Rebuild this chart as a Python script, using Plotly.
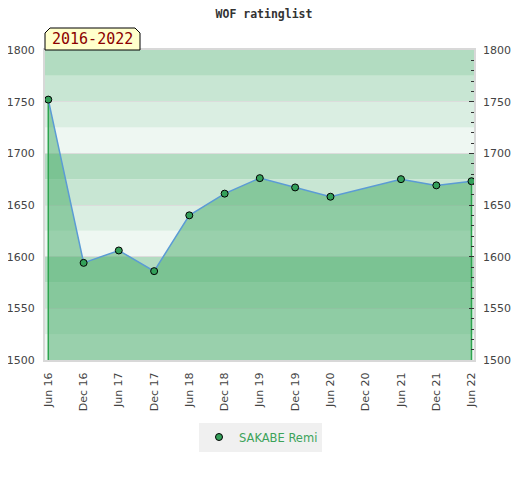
import plotly.graph_objects as go

# rating list dates and ratings (Dec 2020 list has no entry)
dates = ["2016-06-01", "2016-12-01", "2017-06-01", "2017-12-01", "2018-06-01",
         "2018-12-01", "2019-06-01", "2019-12-01", "2020-06-01", "2021-06-01",
         "2021-12-01", "2022-06-01"]
ratings = [1752, 1594, 1606, 1586, 1640, 1661, 1676, 1667, 1658, 1675, 1669, 1673]
player = "SAKABE Remi"
period = "2016-2022"

y_min, y_max = 1500, 1800
band_step = 25
band_colors = ["#eef7f2", "#daeee2", "#c8e6d3", "#b2dcc1"]  # bottom -> top in each 100

fig = go.Figure()

# area under the rating line
fig.add_trace(go.Scatter(x=dates, y=ratings, mode="lines", fill="tozeroy",
                         fillcolor="rgba(68,170,102,0.5)", line=dict(width=0),
                         hoverinfo="skip", showlegend=False))
# green edges of the area
fig.add_trace(go.Scatter(x=[dates[0], dates[0], None, dates[-1], dates[-1]],
                         y=[ratings[0], y_min, None, ratings[-1], y_min],
                         mode="lines", line=dict(color="#2ea44f", width=1.5),
                         hoverinfo="skip", showlegend=False))
fig.add_trace(go.Scatter(x=dates, y=ratings, mode="lines",
                         line=dict(color="#5b9bd5", width=1.5), showlegend=False))
fig.add_trace(go.Scatter(x=dates, y=ratings, mode="markers", name=player, yaxis="y2",
                         marker=dict(size=7, color="#34a05a",
                                     line=dict(color="#000", width=1))))

shapes = []
for i, lo in enumerate(range(y_min, y_max, band_step)):
    shapes.append(dict(type="rect", xref="paper", yref="y", x0=0, x1=1,
                       y0=lo, y1=lo + band_step, fillcolor=band_colors[i % 4],
                       line=dict(width=0), layer="below"))

# period badge with cut top corners (pixel positions of the page -> paper)
px = lambda v: (v - 45) / 429
py = lambda v: (360 - v) / 310
shapes.append(dict(type="path", xref="paper", yref="paper",
                   path=f"M{px(45)},{py(50)} L{px(45)},{py(33)} L{px(50)},{py(28)} "
                        f"L{px(135)},{py(28)} L{px(140)},{py(33)} L{px(140)},{py(50)} Z",
                   fillcolor="#ffffcc", line=dict(color="#000", width=1)))

# the page body adds an 8px offset, so the figure is 8px smaller
fig.update_layout(
    width=512, height=472,
    margin=dict(l=37, r=46, t=42, b=120),
    paper_bgcolor="white", plot_bgcolor="white",
    font=dict(family="DejaVu Sans", size=11, color="#444"),
    title=dict(text="WOF ratinglist", x=0.5, xanchor="center", y=1 - 6 / 472,
               yanchor="middle", yref="container",
               font=dict(family="DejaVu Sans Mono", size=11.5, color="#333", weight="bold")),
    shapes=shapes,
    annotations=[dict(text=period, xref="paper", yref="paper", x=px(92.5), y=py(39.5),
                      showarrow=False, xanchor="center", yanchor="middle",
                      font=dict(family="DejaVu Sans Mono", size=15, color="#8b0000"))],
    showlegend=True,
    legend=dict(orientation="h", x=px(260.5), xanchor="center", y=py(437), yanchor="middle",
                bgcolor="#f0f0f0", font=dict(color="#3ca35a", size=11.5),
                entrywidth=78, entrywidthmode="pixels"),
    xaxis=dict(type="date", range=["2016-05-15", "2022-06-14"], tick0="2016-06-01",
               dtick="M6", tickformat="%b %y", tickangle=-90, ticks="",
               ticklabelstandoff=6, automargin=False,
               showgrid=False, zeroline=False, showline=True, mirror=True,
               linecolor="#d8d8d8", linewidth=2),
    yaxis=dict(range=[y_min, y_max], dtick=50, ticks="", showgrid=True,
               ticklabelstandoff=6, automargin=False,
               gridcolor="#dcdcdc", gridwidth=1, zeroline=False, showline=True,
               mirror=True, linecolor="#d8d8d8", linewidth=2),
    yaxis2=dict(range=[y_min, y_max], overlaying="y", side="right", dtick=50,
                ticks="inside", ticklen=5, tickcolor="#333", showgrid=False,
                ticklabelstandoff=8, automargin=False,
                zeroline=False, showline=False,
                minor=dict(dtick=10, ticks="inside", ticklen=3, tickcolor="#333")),
)

fig.write_html("out.html")
